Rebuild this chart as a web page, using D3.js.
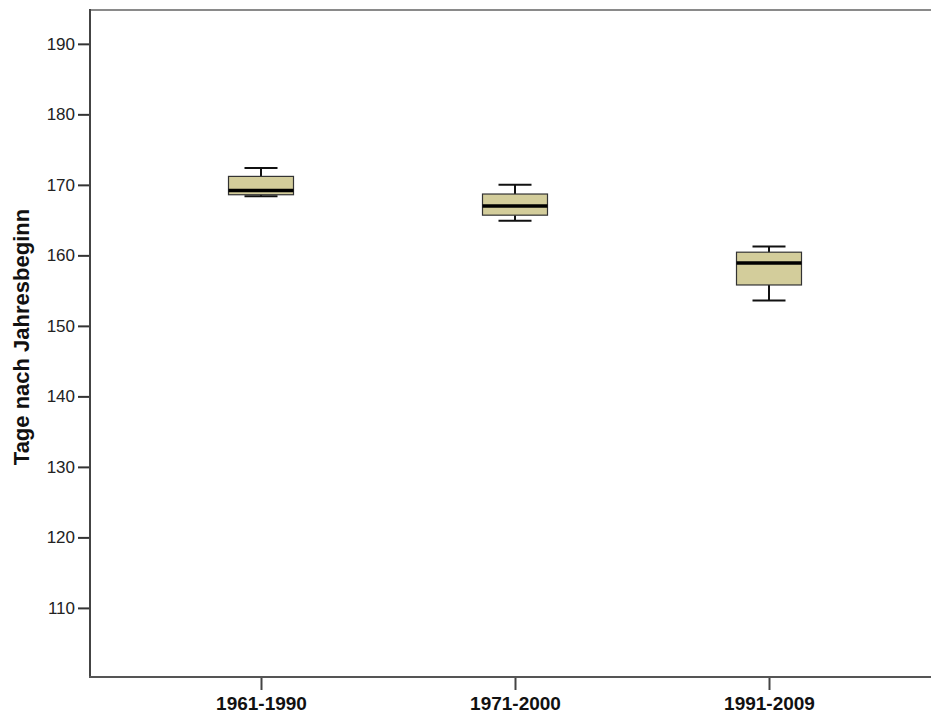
<!DOCTYPE html>
<html><head><meta charset="utf-8">
<script src="https://cdn.jsdelivr.net/npm/d3@7"></script>
<style>body{margin:0;background:#fff}svg{display:block}</style>
</head><body>
<svg id="c" width="931" height="716"></svg>
<script>
const categories = ["1961-1990", "1971-2000", "1991-2009"];
const minVals    = [168.4, 164.9, 153.6];
const q1Vals     = [168.6, 165.7, 155.8];
const medianVals = [169.2, 167.0, 158.9];
const q3Vals     = [171.2, 168.7, 160.45];
const maxVals    = [172.4, 170.0, 161.25];
const yTicks     = [110, 120, 130, 140, 150, 160, 170, 180, 190];
const yTitle     = "Tage nach Jahresbeginn";

(function () {
const svg = d3.select("#c");
const mLeft = 90, mTop = 10, mBottom = 677, mRight = 931;
const y = d3.scaleLinear().domain([100.2, 194.8]).range([mBottom, mTop]);
const x = d3.scalePoint().domain(categories).range([261, 769]);

const font = "Arial, 'Liberation Sans', sans-serif";

// top border
svg.append("line").attr("x1", mLeft).attr("x2", mRight).attr("y1", mTop).attr("y2", mTop)
  .attr("stroke", "#8a8a8a").attr("stroke-width", 2);

// y axis
const ya = svg.append("g").attr("transform", `translate(${mLeft},0)`)
  .call(d3.axisLeft(y).tickValues(yTicks).tickSize(12).tickSizeOuter(0).tickPadding(3));
ya.select(".domain").remove();
ya.selectAll(".tick line").attr("stroke", "#333").attr("stroke-width", 2);
ya.selectAll("text").attr("font-family", font).attr("font-size", 17).attr("fill", "#222");
svg.append("line").attr("x1", mLeft).attr("x2", mLeft).attr("y1", mTop - 1).attr("y2", mBottom + 1)
  .attr("stroke", "#444").attr("stroke-width", 2);

// x axis
const xa = svg.append("g").attr("transform", `translate(0,${mBottom})`)
  .call(d3.axisBottom(x).tickSize(13).tickSizeOuter(0));
xa.select(".domain").remove();
xa.selectAll(".tick line").attr("stroke", "#444").attr("stroke-width", 2);
xa.selectAll("text").attr("y", 33).attr("dy", null).attr("font-family", font).attr("font-size", 19)
  .attr("font-weight", "bold").attr("fill", "#111");
svg.append("line").attr("x1", mLeft - 1).attr("x2", mRight).attr("y1", mBottom).attr("y2", mBottom)
  .attr("stroke", "#555").attr("stroke-width", 2);

// y title
svg.append("text").attr("transform", `translate(29,337) rotate(-90)`)
  .attr("text-anchor", "middle").attr("font-family", font).attr("font-size", 22)
  .attr("font-weight", "bold").attr("fill", "#111").text(yTitle);

// boxes
const boxW = 65, capW = 33;
const data = categories.map((c, i) => ({c, min: minVals[i], q1: q1Vals[i], med: medianVals[i], q3: q3Vals[i], max: maxVals[i]}));
const g = svg.append("g");
data.forEach(d => {
  const cx = x(d.c);
  g.append("line").attr("x1", cx).attr("x2", cx).attr("y1", y(d.max)).attr("y2", y(d.q3)).attr("stroke", "#111").attr("stroke-width", 2);
  g.append("line").attr("x1", cx).attr("x2", cx).attr("y1", y(d.q1)).attr("y2", y(d.min)).attr("stroke", "#111").attr("stroke-width", 2);
  g.append("line").attr("x1", cx - capW / 2).attr("x2", cx + capW / 2).attr("y1", y(d.max)).attr("y2", y(d.max)).attr("stroke", "#111").attr("stroke-width", 2);
  g.append("line").attr("x1", cx - capW / 2).attr("x2", cx + capW / 2).attr("y1", y(d.min)).attr("y2", y(d.min)).attr("stroke", "#111").attr("stroke-width", 2);
  g.append("rect").attr("x", cx - boxW / 2).attr("y", y(d.q3)).attr("width", boxW).attr("height", y(d.q1) - y(d.q3))
    .attr("fill", "#d3cd9b").attr("stroke", "#333").attr("stroke-width", 1.2);
  g.append("line").attr("x1", cx - boxW / 2).attr("x2", cx + boxW / 2).attr("y1", y(d.med)).attr("y2", y(d.med)).attr("stroke", "#000").attr("stroke-width", 3.5);
});
})();
</script>
</body></html>
